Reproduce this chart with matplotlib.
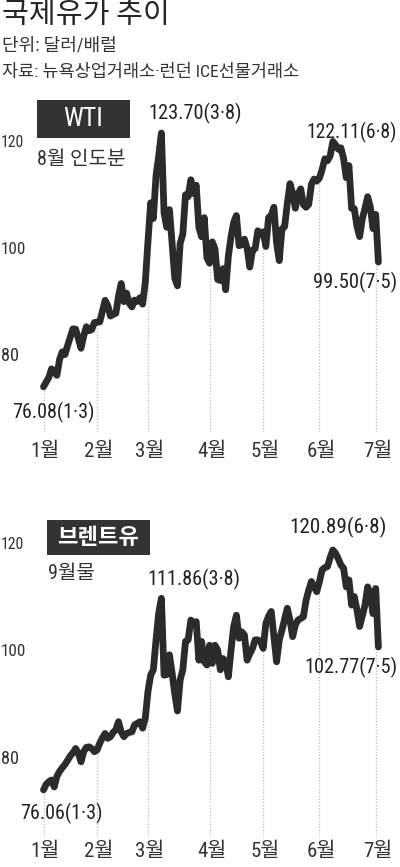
import matplotlib
matplotlib.use("Agg")
import matplotlib.pyplot as plt
import matplotlib.transforms as mtransforms
from matplotlib.patches import Rectangle
import numpy as np
import pandas as pd

# trading days 2022-01-03 ~ 2022-07-05 (US market holidays removed)
holidays = ["2022-01-17", "2022-02-21", "2022-04-15", "2022-05-30", "2022-06-20", "2022-07-04"]
dates = pd.bdate_range("2022-01-03", "2022-07-05").drop(pd.to_datetime(holidays))

# WTI, 8월 인도분 (달러/배럴)
wti = [
    76.08, 76.99, 77.85, 79.46, 78.90, 78.23, 81.22, 82.64, 82.12, 83.82,
    85.43, 86.96, 86.90, 85.14, 83.31, 85.60, 87.35, 86.61, 86.82, 88.15,
    88.20, 88.26, 90.27, 92.31, 91.32, 89.36, 89.66, 89.88, 93.10, 95.46,
    92.07, 93.66, 91.76, 91.07, 92.35, 92.10, 92.81, 91.59, 95.72,
    103.41, 110.60, 107.67, 115.68, 119.40, 123.70, 108.70, 106.02, 109.33, 103.01,
    96.44, 95.04, 102.98, 104.70, 112.12, 111.76, 114.93, 112.34, 113.90, 105.96,
    104.24, 107.82, 100.28,
    99.27, 103.28, 101.96, 96.23, 96.03, 98.26, 94.29, 100.60, 104.25, 106.95,
    108.21, 102.56, 102.75, 103.79, 102.07, 98.54, 101.70, 102.02, 105.36, 104.69,
    105.17, 102.41, 107.81, 108.26, 109.77, 103.09, 99.76, 105.71, 106.13, 110.49,
    114.20, 112.40, 109.59, 112.21, 113.23, 110.29, 109.77, 110.33, 114.09, 115.07,
    114.67,
    115.26, 116.87, 118.87, 118.50, 119.41, 122.11, 121.51, 120.67, 120.93, 118.93,
    115.31, 117.59, 109.56, 109.52, 106.19, 104.27, 107.62, 109.57, 111.76, 109.78,
    105.76,
    108.43, 99.50,
]

# 브렌트유, 9월물 (달러/배럴)
brent = [
    76.06, 77.1, 77.6, 77.9, 76.6, 78.6, 79.5, 80.2, 80.8, 81.6,
    82.4, 83.0, 83.8, 82.9, 81.3, 83.2, 84.0, 84.1, 83.8, 83.2,
    83.5, 84.8, 85.8, 86.6, 85.7, 86.0, 86.8, 87.3, 88.8, 86.9,
    86.0, 86.6, 86.8, 86.9, 88.2, 88.5, 88.8, 87.6, 89.5,
    94.5, 97.5, 98.5, 104.1, 109.1, 111.86, 97.5, 97.6, 101.3, 97.9,
    94.0, 90.8, 96.6, 98.5, 103.8, 104.1, 107.8, 107.2, 107.5, 100.3,
    103.8, 100.0, 99.4,
    103.1, 99.7, 103.1, 102.2, 98.5, 100.6, 100.0, 97.2, 102.2, 106.6,
    108.7, 104.4, 105.6, 105.0, 100.3, 101.5, 102.5, 104.1, 104.1, 103.8,
    102.5, 107.2, 108.5, 109.4, 104.7, 100.0, 104.1, 105.9, 108.0, 110.0,
    107.8, 104.7, 106.9, 107.8, 108.1, 108.4, 111.5, 113.4, 115.0, 114.0,
    113.1,
    115.0, 117.2, 117.6, 117.8, 119.5, 120.89, 120.3, 119.3, 118.1, 117.5,
    114.0, 115.3, 110.6, 112.2, 109.7, 106.6, 108.6, 110.6, 114.0, 112.5,
    109.0,
    113.7, 102.77,
]

month_labels = ["1월", "2월", "3월", "4월", "5월", "6월", "7월"]
y_ticks = [80, 100, 120]

W, H = 400, 867
LINE = "#2b2b2b"
TEXT = "#333333"
NUM_FONT = ["Roboto Condensed", "Liberation Sans Narrow", "Liberation Sans", "Noto Sans CJK KR"]
KR_FONT = ["Roboto Condensed", "Liberation Sans", "Noto Sans CJK KR"]

fig = plt.figure(figsize=(W / 100, H / 100), dpi=100)
fig.patch.set_facecolor("white")
renderer = fig.canvas.get_renderer()


def fit(t, width_px):
    # shrink/grow a text so it spans the width seen in the original
    w = t.get_window_extent(renderer).width
    t.set_fontsize(t.get_fontsize() * width_px / w)


# title block
fig.text(2 / W, 1 - 15 / H, "국제유가 추이", family=KR_FONT, fontsize=21,
         color="#262626", ha="left", va="center")
fig.text(2 / W, 1 - 46 / H, "단위: 달러/배럴", family=KR_FONT, fontsize=13,
         color=TEXT, ha="left", va="center")
fig.text(2 / W, 1 - 72 / H, "자료: 뉴욕상업거래소·런던 ICE선물거래소", family=KR_FONT,
         fontsize=12.6, color=TEXT, ha="left", va="center")

month_idx = [int(np.argmax(dates.month == m)) for m in range(1, 8)]
ytick_width = {80: 18, 100: 25, 120: 23}


def panel(top, bottom, values, ylim, label_y):
    ax = fig.add_axes([30 / W, 1 - bottom / H, 365 / W, (bottom - top) / H])
    ax.set_xlim(-5.04, 131.2)
    ax.set_ylim(*ylim)
    ax.set_axis_off()
    x = np.arange(len(values))
    ax.plot(x, values, color=LINE, lw=4.9, solid_joinstyle="round",
            solid_capstyle="round", zorder=3)
    # dotted drop lines at the first trading day of each month
    for i in month_idx:
        ax.vlines(i, ylim[0], values[i], colors="#bcbcbc", lw=0.9,
                  linestyles=(0, (1, 1.5)), zorder=1)
    # y labels sit a little above their level
    ytr = mtransforms.blended_transform_factory(fig.transFigure, ax.transData)
    ytr = ytr + mtransforms.ScaledTranslation(0, 0.10, fig.dpi_scale_trans)
    for v in y_ticks:
        t = ax.text(1 / W, v, str(v), transform=ytr, family=NUM_FONT, fontsize=12,
                    color=TEXT, ha="left", va="center")
        fit(t, ytick_width[v])
    xtr = mtransforms.blended_transform_factory(ax.transData, fig.transFigure)
    xtr = xtr + mtransforms.ScaledTranslation(0.02, 0, fig.dpi_scale_trans)
    for i, lab in zip(month_idx, month_labels):
        ax.text(i, 1 - label_y / H, lab, transform=xtr, family=KR_FONT,
                fontsize=15, color=TEXT, ha="center", va="center")
    return ax


def note(ax, i, values, text, dx, dy, width_px):
    t = ax.annotate(text, xy=(i, values[i]), xytext=(dx, dy), textcoords="offset pixels",
                    family=NUM_FONT, fontsize=16, color="#222222",
                    ha="center", va="center", zorder=4)
    fit(t, width_px)


def tag(x0, y0, x1, y1, text, size, family, weight="normal"):
    fig.add_artist(Rectangle((x0 / W, 1 - y1 / H), (x1 - x0) / W, (y1 - y0) / H,
                             transform=fig.transFigure, color="#333333", lw=0))
    return fig.text((x0 + x1) / 2 / W, 1 - (y0 + y1) / 2 / H, text, family=family,
                    fontsize=size, color="white", weight=weight, ha="center", va="center")


# WTI panel
ax1 = panel(100, 432, wti, (67.6, 129.9), 452)
fit(tag(37, 100, 130, 138, "WTI", 19, NUM_FONT), 40)
fig.text(37 / W, 1 - 159 / H, "8월 인도분", family=KR_FONT, fontsize=14.5,
         color=TEXT, ha="left", va="center")
note(ax1, 44, wti, "123.70(3·8)", 34, 20, 94)
note(ax1, 108, wti, "122.11(6·8)", 19, 9, 90)
note(ax1, 125, wti, "99.50(7·5)", -23, -20, 85)
note(ax1, 0, wti, "76.08(1·3)", 10, -26, 83)

# Brent panel
ax2 = panel(510, 837, brent, (67.25, 128.37), 852)
tag(47, 520, 150, 555, "브렌트유", 16, ["Noto Sans CJK KR"], weight="bold")
fig.text(48 / W, 1 - 573 / H, "9월물", family=KR_FONT, fontsize=14.5,
         color=TEXT, ha="left", va="center")
note(ax2, 108, brent, "120.89(6·8)", 5, 23, 97)
note(ax2, 44, brent, "111.86(3·8)", 32, 19, 93)
note(ax2, 125, brent, "102.77(7·5)", -27, -20, 93)
note(ax2, 0, brent, "76.06(1·3)", 18, -24, 83)

fig.savefig("out.png", dpi=100, facecolor="white")
